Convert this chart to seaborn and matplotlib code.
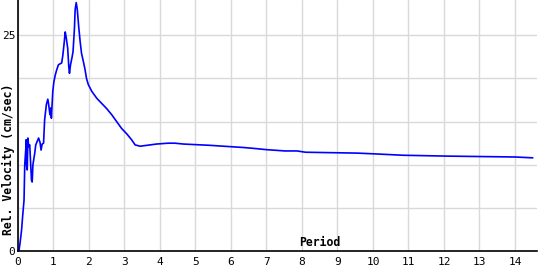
import matplotlib
matplotlib.use("Agg")
import matplotlib.pyplot as plt
import seaborn as sns
import pandas as pd

period = [0.03, 0.06, 0.10, 0.13, 0.17, 0.19, 0.22, 0.23, 0.24, 0.26, 0.28, 0.30, 0.33,
          0.38, 0.40, 0.42, 0.47, 0.50, 0.54, 0.58, 0.62, 0.65, 0.68, 0.72, 0.75, 0.80,
          0.84, 0.86, 0.90, 0.93, 0.94, 0.98, 1.01, 1.05, 1.09, 1.14, 1.23, 1.26, 1.30,
          1.33, 1.36, 1.40, 1.43, 1.45, 1.48, 1.52, 1.55, 1.59, 1.61, 1.64, 1.67, 1.71,
          1.75, 1.79, 1.84, 1.89, 1.93, 1.98, 2.08, 2.22, 2.36, 2.50, 2.64, 2.78, 2.92,
          3.06, 3.20, 3.30, 3.44, 3.63, 3.90, 4.23, 4.42, 4.66, 5.41, 5.97, 6.35, 6.63,
          7.00, 7.52, 7.86, 8.10, 9.55, 10.10, 10.85, 12.10, 14.00, 14.50]
velocity = [0.1, 1.0, 2.4, 4.0, 5.9, 10.0, 11.9, 12.9, 9.9, 9.4, 13.1, 12.1, 12.3,
            8.2, 8.0, 10.0, 11.3, 12.3, 12.7, 13.1, 12.6, 11.7, 12.4, 12.5, 15.2, 17.0,
            17.6, 17.1, 15.8, 16.6, 15.4, 18.5, 19.6, 20.4, 21.0, 21.6, 21.8, 22.6, 24.1,
            25.4, 24.7, 23.5, 21.4, 20.6, 21.6, 22.4, 23.1, 25.8, 28.0, 28.8, 28.0, 26.0,
            24.3, 22.9, 22.0, 21.0, 20.0, 19.3, 18.5, 17.7, 17.1, 16.5, 15.8, 15.0, 14.2,
            13.6, 12.9, 12.3, 12.15, 12.25, 12.4, 12.5, 12.5, 12.4, 12.25, 12.1, 12.0, 11.9,
            11.75, 11.6, 11.6, 11.45, 11.35, 11.25, 11.1, 11.0, 10.9, 10.8]

x_ticks = list(range(0, 15))
y_ticks = [0, 5, 10, 15, 20, 25]
y_tick_labels = ["0", "", "", "", "", "25"]

df = pd.DataFrame({"Period": period, "Velocity": velocity})

sns.set_style("white")
plt.rcParams["font.family"] = ["DejaVu Sans Mono", "DejaVu Sans"]
plt.rcParams["text.color"] = "black"
plt.rcParams["xtick.color"] = "black"
plt.rcParams["ytick.color"] = "black"

fig = plt.figure(figsize=(5.4, 2.7), dpi=100)
ax = fig.add_axes([18 / 540, 19 / 270, (537 - 18) / 540, 251 / 270])

sns.lineplot(data=df, x="Period", y="Velocity", ax=ax, color="#0000ff",
             linewidth=1.2, estimator=None, sort=False)

ax.set_xlim(0, 14.62)
ax.set_ylim(0, 29.1)
ax.set_xticks(x_ticks)
ax.set_xticklabels([str(t) for t in x_ticks])
ax.set_yticks(y_ticks)
ax.set_yticklabels(y_tick_labels)
ax.grid(True, color="#d9d9d9", linewidth=1.0)
ax.set_axisbelow(True)

for s in ["top", "right"]:
    ax.spines[s].set_visible(False)
for s in ["left", "bottom"]:
    ax.spines[s].set_color("black")
    ax.spines[s].set_linewidth(1.2)

ax.tick_params(axis="x", length=3, width=1, colors="black", pad=1, labelsize=8)
ax.tick_params(axis="y", length=0, pad=2, labelsize=8, colors="black")

ax.set_xlabel("")
ax.set_ylabel("")
fig.text(8 / 540, 1 - 159 / 270, "Rel. Velocity (cm/sec)", rotation=90,
         ha="center", va="center", fontsize=8.3, fontweight="bold", color="black")
ax.text((320 - 18) / 519, 9 / 251, "Period", transform=ax.transAxes,
        ha="center", va="center", fontsize=8.3, fontweight="bold", color="black")

fig.savefig("out.png", dpi=100)
